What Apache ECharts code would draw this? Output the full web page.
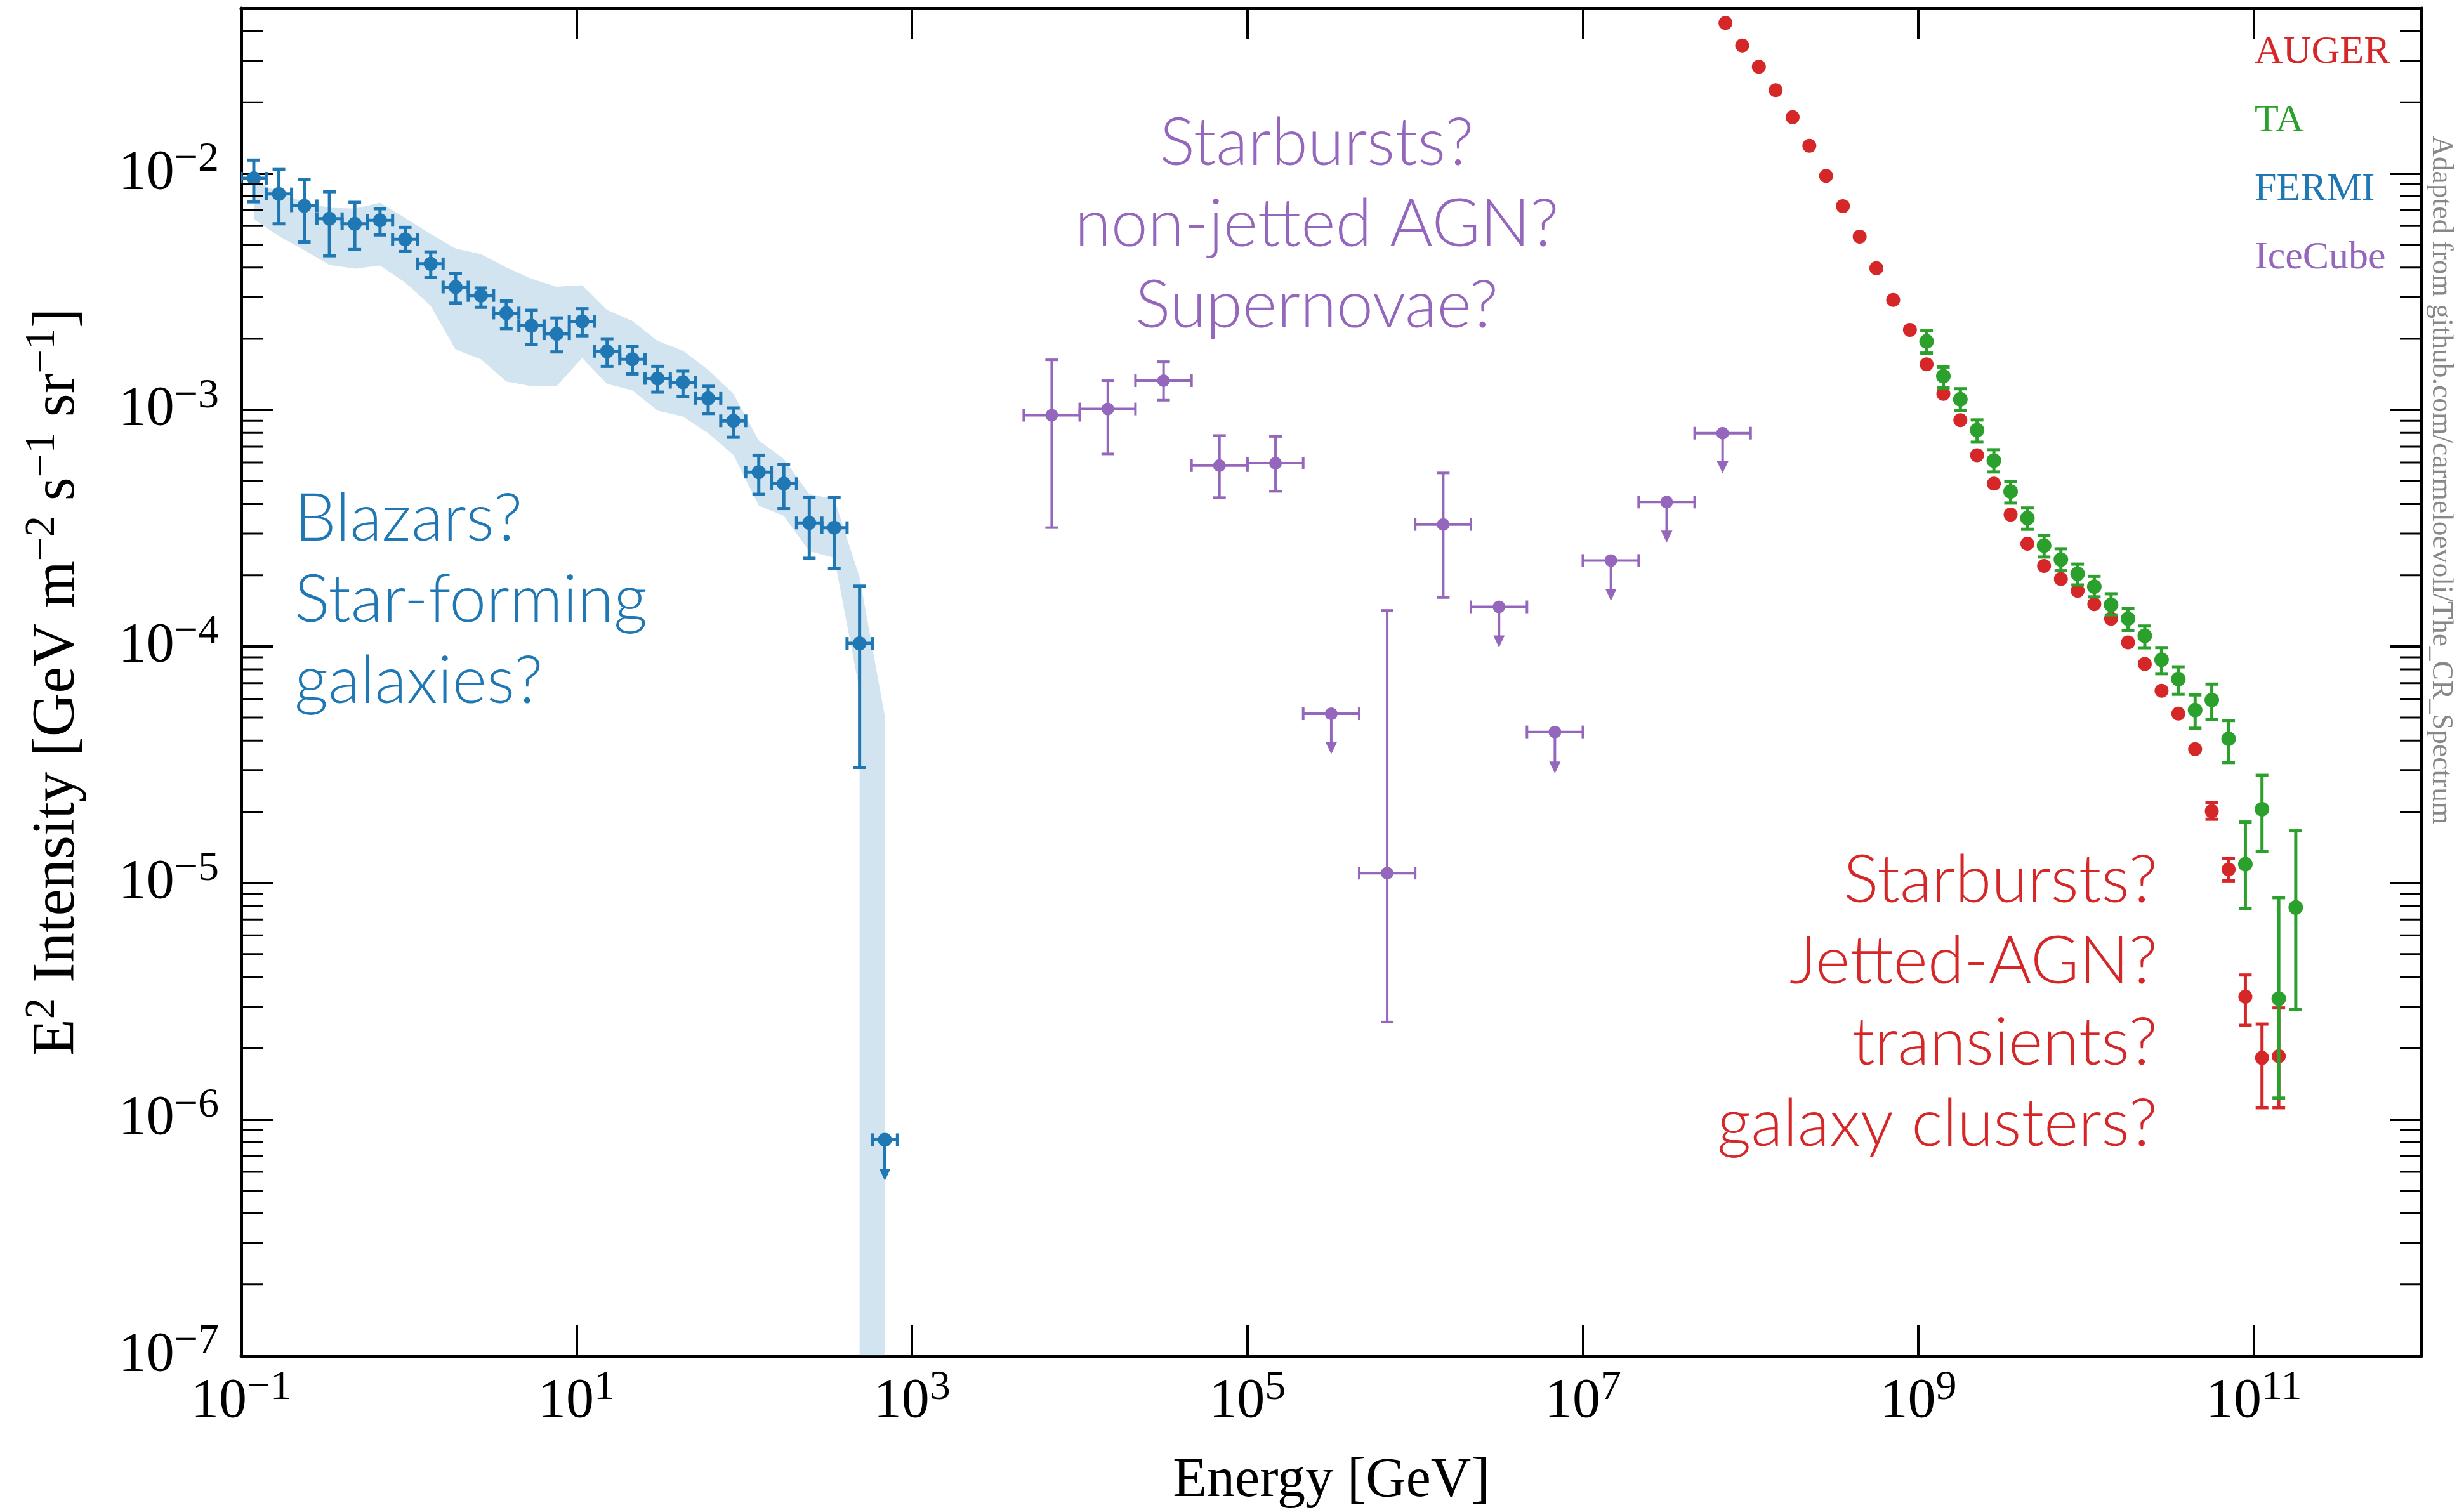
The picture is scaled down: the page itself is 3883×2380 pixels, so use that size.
<!DOCTYPE html>
<html>
<head>
<meta charset="utf-8">
<script src="https://cdn.jsdelivr.net/npm/echarts@6/dist/echarts.min.js"></script>
<style>
  html, body { margin: 0; padding: 0; background: #fff; }
  #chart { width: 3883px; height: 2380px; }
</style>
</head>
<body>
<div id="chart"></div>
<script>
// ---------- axis ranges and tick labels ----------
const X_MIN = 0.1, X_MAX = 1e12;
const Y_MIN = 1e-7, Y_MAX = 0.05;
const X_TICK_EXP = [-1, 1, 3, 5, 7, 9, 11];
const Y_TICK_EXP = [-7, -6, -5, -4, -3, -2];
const MINOR_MULT = [2, 3, 4, 5, 6, 7, 8, 9];
const MINOR_DECADES = [1e-7, 1e-6, 1e-5, 1e-4, 1e-3, 1e-2];

// ---------- FERMI (isotropic gamma-ray background) ----------
const FERMI_E    = [0.119, 0.168, 0.238, 0.336, 0.476, 0.673, 0.951, 1.35, 1.90, 2.69, 3.81, 5.38, 7.61,
                    10.8, 15.2, 21.5, 30.4, 43.1, 60.9, 86.1, 122, 172, 244, 344, 487, 689];
const FERMI_ELO  = [0.1, 0.141, 0.2, 0.283, 0.4, 0.566, 0.8, 1.13, 1.6, 2.26, 3.2, 4.53, 6.4,
                    9.05, 12.8, 18.1, 25.6, 36.2, 51.2, 72.4, 102, 145, 205, 290, 410, 579];
const FERMI_EHI  = [0.141, 0.2, 0.283, 0.4, 0.566, 0.8, 1.13, 1.6, 2.26, 3.2, 4.53, 6.4, 9.05,
                    12.8, 18.1, 25.6, 36.2, 51.2, 72.4, 102, 145, 205, 290, 410, 579, 819];
const FERMI_I    = [9.55e-3, 8.2e-3, 7.3e-3, 6.44e-3, 6.13e-3, 6.34e-3, 5.27e-3, 4.15e-3, 3.31e-3, 3.05e-3,
                    2.57e-3, 2.27e-3, 2.10e-3, 2.37e-3, 1.77e-3, 1.64e-3, 1.36e-3, 1.31e-3, 1.12e-3, 9.0e-4,
                    5.46e-4, 4.88e-4, 3.33e-4, 3.18e-4, 1.03e-4, 8.2e-7];
const FERMI_IHI  = [1.14e-2, 1.04e-2, 9.41e-3, 8.38e-3, 7.55e-3, 7.10e-3, 5.92e-3, 4.66e-3, 3.77e-3, 3.28e-3,
                    2.89e-3, 2.64e-3, 2.45e-3, 2.68e-3, 2.00e-3, 1.86e-3, 1.53e-3, 1.46e-3, 1.26e-3, 1.02e-3,
                    6.44e-4, 5.87e-4, 4.28e-4, 4.28e-4, 1.80e-4, 8.2e-7];
// for upper limits the low value is where the arrow ends
const FERMI_ILO  = [7.59e-3, 6.13e-3, 5.13e-3, 4.49e-3, 4.77e-3, 5.50e-3, 4.68e-3, 3.63e-3, 2.83e-3, 2.72e-3,
                    2.21e-3, 1.89e-3, 1.76e-3, 2.06e-3, 1.53e-3, 1.42e-3, 1.19e-3, 1.14e-3, 9.66e-4, 7.67e-4,
                    4.40e-4, 3.83e-4, 2.36e-4, 2.14e-4, 3.08e-5, 5.5e-7];
const FERMI_UL   = [0, 0, 0, 0, 0, 0, 0, 0, 0, 0, 0, 0, 0, 0, 0, 0, 0, 0, 0, 0, 0, 0, 0, 0, 0, 1];
// foreground-model systematic band
const BAND_UP_E  = FERMI_E;
const BAND_UP_I  = [9.40e-3, 8.30e-3, 7.57e-3, 7.16e-3, 7.11e-3, 7.53e-3, 6.49e-3, 5.54e-3, 4.82e-3, 4.56e-3,
                    4.01e-3, 3.59e-3, 3.32e-3, 3.37e-3, 2.65e-3, 2.38e-3, 1.96e-3, 1.78e-3, 1.48e-3, 1.17e-3,
                    7.43e-4, 6.21e-4, 4.41e-4, 4.20e-4, 1.96e-4, 5.06e-5];
const BAND_LO_E  = [0.119, 0.168, 0.238, 0.336, 0.476, 0.673, 0.951, 1.35, 1.90, 2.69, 3.81, 5.38, 7.61,
                    10.8, 15.2, 21.5, 30.4, 43.1, 60.9, 86.1, 122, 172, 244, 344, 487, 487, 689];
const BAND_LO_I  = [6.41e-3, 5.43e-3, 4.74e-3, 4.11e-3, 3.96e-3, 4.08e-3, 3.46e-3, 2.76e-3, 1.80e-3, 1.64e-3,
                    1.32e-3, 1.26e-3, 1.26e-3, 1.66e-3, 1.29e-3, 1.21e-3, 9.93e-4, 9.39e-4, 7.98e-4, 6.46e-4,
                    3.94e-4, 3.57e-4, 2.53e-4, 2.37e-4, 6.5e-5, 1e-7, 1e-7];

// ---------- IceCube (neutrinos) ----------
const ICE_E   = [6.81e3, 1.47e4, 3.16e4, 6.81e4, 1.47e5, 3.16e5, 6.81e5, 1.47e6, 3.16e6, 6.81e6, 1.47e7, 3.16e7, 6.81e7];
const ICE_ELO = [4.64e3, 1e4, 2.15e4, 4.64e4, 1e5, 2.15e5, 4.64e5, 1e6, 2.15e6, 4.64e6, 1e7, 2.15e7, 4.64e7];
const ICE_EHI = [1e4, 2.15e4, 4.64e4, 1e5, 2.15e5, 4.64e5, 1e6, 2.15e6, 4.64e6, 1e7, 2.15e7, 4.64e7, 1e8];
const ICE_I   = [9.5e-4, 1.01e-3, 1.33e-3, 5.82e-4, 5.96e-4, 5.19e-5, 1.1e-5, 3.28e-4, 1.47e-4, 4.35e-5, 2.31e-4, 4.08e-4, 7.98e-4];
const ICE_IHI = [1.63e-3, 1.33e-3, 1.60e-3, 7.80e-4, 7.73e-4, 5.19e-5, 1.42e-4, 5.42e-4, 1.47e-4, 4.35e-5, 2.31e-4, 4.08e-4, 7.98e-4];
const ICE_ILO = [3.18e-4, 6.52e-4, 1.10e-3, 4.26e-4, 4.53e-4, 3.5e-5, 2.58e-6, 1.61e-4, 9.9e-5, 2.9e-5, 1.56e-4, 2.75e-4, 5.4e-4];
const ICE_UL  = [0, 0, 0, 0, 0, 1, 0, 0, 1, 1, 1, 1, 1];

// ---------- Pierre Auger Observatory ----------
const AUGER_E   = [7.08e7, 8.91e7, 1.12e8, 1.41e8, 1.78e8, 2.24e8, 2.82e8, 3.55e8, 4.47e8, 5.62e8,
                   7.08e8, 8.91e8, 1.12e9, 1.41e9, 1.78e9, 2.24e9, 2.82e9, 3.55e9, 4.47e9, 5.62e9,
                   7.08e9, 8.91e9, 1.12e10, 1.41e10, 1.78e10, 2.24e10, 2.82e10, 3.55e10, 4.47e10, 5.62e10,
                   7.08e10, 8.91e10, 1.12e11, 1.41e11];
const AUGER_I   = [4.33e-2, 3.48e-2, 2.83e-2, 2.25e-2, 1.73e-2, 1.31e-2, 9.77e-3, 7.28e-3, 5.41e-3, 3.98e-3,
                   2.92e-3, 2.18e-3, 1.56e-3, 1.17e-3, 9.06e-4, 6.44e-4, 4.88e-4, 3.61e-4, 2.72e-4, 2.19e-4,
                   1.93e-4, 1.72e-4, 1.51e-4, 1.31e-4, 1.04e-4, 8.43e-5, 6.50e-5, 5.20e-5, 3.68e-5, 2.01e-5,
                   1.14e-5, 3.30e-6, 1.82e-6, 1.85e-6];
const AUGER_IHI = [4.33e-2, 3.48e-2, 2.83e-2, 2.25e-2, 1.73e-2, 1.31e-2, 9.77e-3, 7.28e-3, 5.41e-3, 3.98e-3,
                   2.92e-3, 2.18e-3, 1.56e-3, 1.17e-3, 9.06e-4, 6.44e-4, 4.88e-4, 3.61e-4, 2.72e-4, 2.19e-4,
                   1.93e-4, 1.72e-4, 1.51e-4, 1.31e-4, 1.04e-4, 8.43e-5, 6.50e-5, 5.20e-5, 3.68e-5, 2.19e-5,
                   1.27e-5, 4.08e-6, 2.53e-6, 2.96e-6];
const AUGER_ILO = [4.33e-2, 3.48e-2, 2.83e-2, 2.25e-2, 1.73e-2, 1.31e-2, 9.77e-3, 7.28e-3, 5.41e-3, 3.98e-3,
                   2.92e-3, 2.18e-3, 1.56e-3, 1.17e-3, 9.06e-4, 6.44e-4, 4.88e-4, 3.61e-4, 2.72e-4, 2.19e-4,
                   1.93e-4, 1.72e-4, 1.51e-4, 1.31e-4, 1.04e-4, 8.43e-5, 6.50e-5, 5.20e-5, 3.68e-5, 1.86e-5,
                   1.02e-5, 2.50e-6, 1.12e-6, 1.12e-6];

// ---------- Telescope Array ----------
const TA_E   = [1.12e9, 1.41e9, 1.78e9, 2.24e9, 2.82e9, 3.55e9, 4.47e9, 5.62e9, 7.08e9, 8.91e9,
                1.12e10, 1.41e10, 1.78e10, 2.24e10, 2.82e10, 3.55e10, 4.47e10, 5.62e10, 7.08e10, 8.91e10,
                1.12e11, 1.41e11, 1.78e11];
const TA_I   = [1.95e-3, 1.39e-3, 1.11e-3, 8.22e-4, 6.11e-4, 4.52e-4, 3.49e-4, 2.67e-4, 2.33e-4, 2.03e-4,
                1.79e-4, 1.50e-4, 1.31e-4, 1.11e-4, 8.79e-5, 7.28e-5, 5.38e-5, 5.94e-5, 4.07e-5, 1.20e-5,
                2.05e-5, 3.24e-6, 7.87e-6];
const TA_IHI = [2.16e-3, 1.52e-3, 1.23e-3, 9.08e-4, 6.79e-4, 4.99e-4, 3.85e-4, 2.94e-4, 2.59e-4, 2.23e-4,
                1.98e-4, 1.67e-4, 1.45e-4, 1.22e-4, 9.89e-5, 8.20e-5, 6.24e-5, 6.93e-5, 4.86e-5, 1.81e-5,
                2.85e-5, 8.66e-6, 1.66e-5];
const TA_ILO = [1.74e-3, 1.24e-3, 9.93e-4, 7.31e-4, 5.47e-4, 4.04e-4, 3.13e-4, 2.39e-4, 2.09e-4, 1.82e-4,
                1.62e-4, 1.36e-4, 1.17e-4, 9.87e-5, 7.67e-5, 6.28e-5, 4.51e-5, 4.91e-5, 3.23e-5, 7.78e-6,
                1.36e-5, 1.23e-6, 2.91e-6];

// ---------- styling ----------
const C_FERMI = '#1f77b4', C_ICE = '#9467bd', C_AUGER = '#d62728', C_TA = '#2ca02c';
const SERIF = '"Liberation Serif", "DejaVu Serif", serif';
const LIGHT = 'Lato, "Open Sans", sans-serif';

function powLabel(v, shown) {
  const lg = Math.log10(v);
  const e = Math.round(lg);
  if (Math.abs(lg - e) > 1e-6 || shown.indexOf(e) < 0) return '';
  return '{b|10}{s|' + (e < 0 ? '\u2212' + (-e) : String(e)) + '}';
}
const tickRich = {
  b: { fontFamily: SERIF, fontSize: 88, lineHeight: 110, color: '#000' },
  s: { fontFamily: SERIF, fontSize: 66, lineHeight: 66, verticalAlign: 'top', color: '#000' }
};

function rows(E, Elo, Ehi, I, Ilo, Ihi, UL) {
  return E.map((e, i) => [e, I[i],
    Elo ? Elo[i] : e, Ehi ? Ehi[i] : e,
    Ilo[i], Ihi[i], UL ? UL[i] : 0]);
}

// error bars (and downward arrows for upper limits) in data space
function errorRender(color, lw, cap) {
  return function (params, api) {
    const x = api.value(0), y = api.value(1);
    const xlo = api.value(2), xhi = api.value(3);
    const ylo = api.value(4), yhi = api.value(5);
    const ul = api.value(6) === 1;
    const p = api.coord([x, y]);
    const st = { stroke: color, lineWidth: lw, fill: null };
    const kids = [];
    const seg = (x1, y1, x2, y2) => kids.push({ type: 'line', shape: { x1, y1, x2, y2 }, style: st });
    if (xlo < xhi) {
      const a = api.coord([xlo, y])[0], b = api.coord([xhi, y])[0];
      seg(a, p[1], b, p[1]);
      seg(a, p[1] - cap, a, p[1] + cap);
      seg(b, p[1] - cap, b, p[1] + cap);
    }
    if (ul) {
      const tip = api.coord([x, ylo])[1];
      const head = 19;
      seg(p[0], p[1], p[0], tip - head + 2);
      kids.push({ type: 'polygon', shape: { points: [[p[0] - 9, tip - head], [p[0] + 9, tip - head], [p[0], tip]] },
                  style: { fill: color } });
    } else if (ylo < yhi) {
      const t = api.coord([x, yhi])[1], b = api.coord([x, ylo])[1];
      seg(p[0], t, p[0], b);
      seg(p[0] - cap, t, p[0] + cap, t);
      seg(p[0] - cap, b, p[0] + cap, b);
    }
    return { type: 'group', children: kids };
  };
}

function errSeries(name, data, color, lw, cap, z) {
  return { type: 'custom', name, data, renderItem: errorRender(color, lw, cap), clip: true,
           encode: { x: 0, y: 1 }, z, silent: true, itemStyle: { color } };
}
function dotSeries(name, E, I, color, size, z) {
  return { type: 'scatter', name, data: E.map((e, i) => [e, I[i]]), symbol: 'circle', symbolSize: size,
           itemStyle: { color, opacity: 1 }, z, silent: true, clip: true };
}

const minorTicks = [];
MINOR_DECADES.forEach(d => MINOR_MULT.forEach(m => { if (m * d < Y_MAX) minorTicks.push([X_MIN, m * d]); }));

const chart = echarts.init(document.getElementById('chart'), null, { renderer: 'canvas' });

const yName = '{t|E}{s|2}{t| Intensity [GeV m}{s|\u22122}{t| s}{s|\u22121}{t| sr}{s|\u22121}{t|]}';

function xAxisBase(pos) {
  return {
    type: 'log', logBase: 10, min: X_MIN, max: X_MAX, interval: 2, position: pos,
    axisLine: { show: true, onZero: false, lineStyle: { color: '#000', width: 5 } },
    axisTick: { show: true, inside: true, length: 48, lineStyle: { color: '#000', width: 4 } },
    splitLine: { show: false }, minorTick: { show: false }
  };
}
function yAxisBase(pos) {
  return {
    type: 'log', logBase: 10, min: Y_MIN, max: Y_MAX, interval: 1, position: pos,
    axisLine: { show: true, onZero: false, lineStyle: { color: '#000', width: 5 } },
    axisTick: { show: true, inside: true, length: 50, lineStyle: { color: '#000', width: 4 } },
    splitLine: { show: false }, minorTick: { show: false }
  };
}

const option = {
  animation: false,
  backgroundColor: '#fff',
  grid: { left: 380, right: 67, top: 13, bottom: 243, containLabel: false, outerBoundsMode: 'none' },
  xAxis: [
    Object.assign(xAxisBase('bottom'), {
      axisLabel: { margin: 18, formatter: v => powLabel(v, X_TICK_EXP), rich: tickRich, hideOverlap: false },
      name: 'Energy [GeV]', nameLocation: 'middle', nameGap: 154,
      nameTextStyle: { fontFamily: SERIF, fontSize: 88, color: '#000' }
    }),
    Object.assign(xAxisBase('top'), { axisLabel: { show: false } })
  ],
  yAxis: [
    Object.assign(yAxisBase('left'), {
      axisLabel: { margin: 35, formatter: v => powLabel(v, Y_TICK_EXP), rich: tickRich, hideOverlap: false },
      name: yName, nameLocation: 'middle', nameRotate: 90, nameGap: 232,
      nameTextStyle: {
        color: '#000',
        rich: {
          t: { fontFamily: SERIF, fontSize: 95, lineHeight: 114, color: '#000' },
          s: { fontFamily: SERIF, fontSize: 67, lineHeight: 67, verticalAlign: 'top', color: '#000' }
        }
      }
    }),
    Object.assign(yAxisBase('right'), { axisLabel: { show: false } })
  ],
  legend: {
    orient: 'vertical', left: 3548, top: 48, padding: 0,
    icon: 'none', itemWidth: 0, itemHeight: 70, itemGap: 38, selectedMode: false,
    textStyle: { fontFamily: SERIF, fontSize: 62, lineHeight: 70 },
    data: [
      { name: 'AUGER', textStyle: { color: C_AUGER } },
      { name: 'TA', textStyle: { color: C_TA } },
      { name: 'FERMI', textStyle: { color: C_FERMI } },
      { name: 'IceCube', textStyle: { color: C_ICE } }
    ]
  },
  graphic: [
    { type: 'text', x: 464, y: 754, silent: true,
      style: { text: 'Blazars?\nStar-forming\ngalaxies?', font: '300 104px ' + LIGHT, fill: C_FERMI,
               textAlign: 'left', textVerticalAlign: 'top', lineHeight: 128 } },
    { type: 'text', x: 2075, y: 162, silent: true,
      style: { text: 'Starbursts?\nnon-jetted AGN?\nSupernovae?', font: '300 104px ' + LIGHT, fill: C_ICE,
               textAlign: 'center', textVerticalAlign: 'top', lineHeight: 128 } },
    { type: 'text', x: 3400, y: 1324, silent: true,
      style: { text: 'Starbursts?\nJetted-AGN?\ntransients?\ngalaxy clusters?', font: '300 104px ' + LIGHT,
               fill: C_AUGER, textAlign: 'right', textVerticalAlign: 'top', lineHeight: 128 } },
    { type: 'text', x: 3846, y: 214, rotation: -Math.PI / 2, silent: true,
      style: { text: 'Adapted from github.com/carmeloevoli/The_CR_Spectrum', font: '45.5px ' + SERIF,
               fill: '#888', textAlign: 'left', textVerticalAlign: 'middle' } }
  ],
  series: [
    // systematic band behind the FERMI points
    {
      type: 'custom', name: 'FERMI', silent: true, clip: true, z: 1,
      data: [[BAND_UP_E[0], BAND_UP_I[0]]], encode: { x: 0, y: 1 }, itemStyle: { color: C_FERMI },
      renderItem: function (params, api) {
        const pts = [];
        BAND_UP_E.forEach((e, i) => pts.push(api.coord([e, BAND_UP_I[i]])));
        for (let i = BAND_LO_E.length - 1; i >= 0; i--) pts.push(api.coord([BAND_LO_E[i], BAND_LO_I[i]]));
        return { type: 'polygon', shape: { points: pts }, style: { fill: 'rgba(31,119,180,0.2)' } };
      }
    },
    // minor ticks on the left and right frame
    {
      type: 'custom', silent: true, z: 6, data: minorTicks, encode: { x: 0, y: 1 },
      renderItem: function (params, api) {
        const cs = params.coordSys;
        const y = api.coord([api.value(0), api.value(1)])[1];
        const st = { stroke: '#000', lineWidth: 3 };
        return { type: 'group', children: [
          { type: 'line', shape: { x1: cs.x, y1: y, x2: cs.x + 34, y2: y }, style: st },
          { type: 'line', shape: { x1: cs.x + cs.width - 34, y1: y, x2: cs.x + cs.width, y2: y }, style: st }
        ] };
      }
    },
    errSeries('FERMI', rows(FERMI_E, FERMI_ELO, FERMI_EHI, FERMI_I, FERMI_ILO, FERMI_IHI, FERMI_UL), C_FERMI, 5, 10, 3),
    dotSeries('FERMI', FERMI_E, FERMI_I, C_FERMI, 22, 4),
    errSeries('IceCube', rows(ICE_E, ICE_ELO, ICE_EHI, ICE_I, ICE_ILO, ICE_IHI, ICE_UL), C_ICE, 4, 10, 3),
    dotSeries('IceCube', ICE_E, ICE_I, C_ICE, 20, 4),
    errSeries('AUGER', rows(AUGER_E, null, null, AUGER_I, AUGER_ILO, AUGER_IHI, null), C_AUGER, 5, 10, 3),
    dotSeries('AUGER', AUGER_E, AUGER_I, C_AUGER, 22, 4),
    errSeries('TA', rows(TA_E, null, null, TA_I, TA_ILO, TA_IHI, null), C_TA, 5, 10, 5),
    dotSeries('TA', TA_E, TA_I, C_TA, 23, 5)
  ]
};

chart.setOption(option);
</script>
</body>
</html>
